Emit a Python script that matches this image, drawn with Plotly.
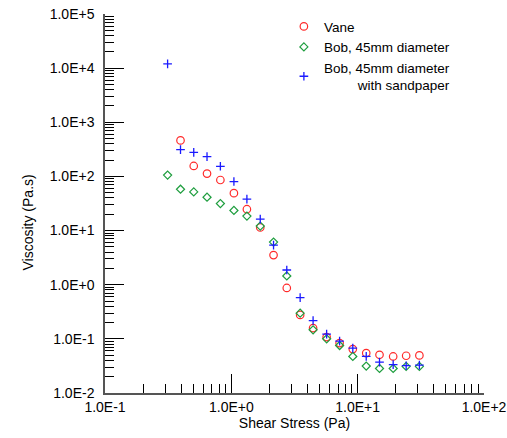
import plotly.graph_objects as go

# Shear stress (Pa) positions, shared by all series (green/blue start one step earlier)
stress_all = [0.313, 0.396, 0.504, 0.642, 0.819, 1.048, 1.328, 1.694, 2.158, 2.747,
              3.505, 4.438, 5.68, 7.195, 9.15, 11.69, 14.89, 19.1, 24.2, 30.8]

vane_stress = stress_all[1:]
vane_visc = [463, 156, 113, 86, 49, 24.8, 11.4, 3.53, 0.871, 0.277,
             0.158, 0.108, 0.0835, 0.0647, 0.0546, 0.0508, 0.0473, 0.0488, 0.0494]

bob_stress = stress_all
bob_visc = [106, 58, 51.8, 41.3, 31.6, 23.5, 18.5, 12.1, 6.13, 1.45,
            0.298, 0.147, 0.100, 0.0754, 0.0473, 0.0315, 0.0284, 0.0284, 0.031, 0.031]

sand_stress = stress_all
sand_visc = [12000, 313, 279, 232, 154, 80.5, 38, 16.3, 5.4, 1.87,
             0.577, 0.218, 0.122, 0.0908, 0.0676, 0.0473, 0.0373, 0.0333, 0.0319, 0.0328]

x_ticks = [0.1, 1, 10, 100]
x_ticktext = ["1.0E-1", "1.0E+0", "1.0E+1", "1.0E+2"]
y_ticks = [1e-2, 1e-1, 1, 10, 100, 1e3, 1e4, 1e5]
y_ticktext = ["1.0E-2", "1.0E-1", "1.0E+0", "1.0E+1", "1.0E+2", "1.0E+3", "1.0E+4", "1.0E+5"]

def minor_vals(lo_exp, hi_exp):
    return [m * 10 ** e for e in range(lo_exp, hi_exp) for m in range(2, 10)]

FONT = "Liberation Sans, Arial, Helvetica, sans-serif"
NB = "&nbsp;" * 9

fig = go.Figure()
fig.add_trace(go.Scatter(
    x=vane_stress, y=vane_visc, mode="markers", name="Vane",
    marker=dict(symbol="circle-open", size=7.5, color="#ff2a2a", line=dict(width=1.2))))
fig.add_trace(go.Scatter(
    x=bob_stress, y=bob_visc, mode="markers", name="Bob, 45mm diameter",
    marker=dict(symbol="diamond-open", size=6.2, color="#1f9e3f", line=dict(width=1.2))))
fig.add_trace(go.Scatter(
    x=sand_stress, y=sand_visc, mode="markers",
    name="Bob, 45mm diameter<br>" + NB + "with sandpaper",
    marker=dict(symbol="cross-thin-open", size=6.2, color="#1a1aff", line=dict(width=1.3))))

axis_common = dict(
    showgrid=False, zeroline=False, showline=True, linecolor="#555555", linewidth=1.5,
    ticks="inside", tickcolor="black", tickwidth=1, automargin=False,
    ticklabeloverflow="allow",
    tickfont=dict(family=FONT, size=14, color="black"),
)

fig.update_xaxes(type="log", range=[-1, 2], tickvals=x_ticks, ticktext=x_ticktext,
                 ticklen=19,
                 minor=dict(tickvals=minor_vals(-1, 2), ticks="inside", ticklen=9,
                            tickcolor="black", tickwidth=1, showgrid=False),
                 title=dict(text="Shear Stress (Pa)", font=dict(family=FONT, size=14, color="black"),
                            standoff=4),
                 **axis_common)
fig.update_yaxes(type="log", range=[-2, 5], tickvals=y_ticks, ticktext=y_ticktext,
                 ticklen=19, ticklabelstandoff=6,
                 minor=dict(tickvals=minor_vals(-2, 5), ticks="inside", ticklen=9,
                            tickcolor="black", tickwidth=1, showgrid=False),
                 **axis_common)

fig.add_annotation(text="Viscosity (Pa.s)", textangle=-90, xref="paper", yref="paper",
                   x=-0.203, y=0.45, xanchor="center", yanchor="middle", showarrow=False,
                   font=dict(family=FONT, size=14, color="black"))

fig.update_layout(
    width=507, height=438,
    margin=dict(l=105, r=23, t=13, b=45),
    paper_bgcolor="white", plot_bgcolor="white",
    font=dict(family=FONT, size=14, color="black"),
    legend=dict(x=0.472, y=1.005, xanchor="left", yanchor="top",
                bgcolor="rgba(0,0,0,0)", borderwidth=0,
                font=dict(family=FONT, size=13.5, color="black"),
                itemwidth=30, tracegroupgap=0),
    showlegend=True,
)

# remove the browser's default 8px body margin so the 507x438 figure fills the window
fig.write_html("out.html",
               config={"displayModeBar": False},
               post_script="document.body.style.margin='0';document.body.style.overflow='hidden';")
